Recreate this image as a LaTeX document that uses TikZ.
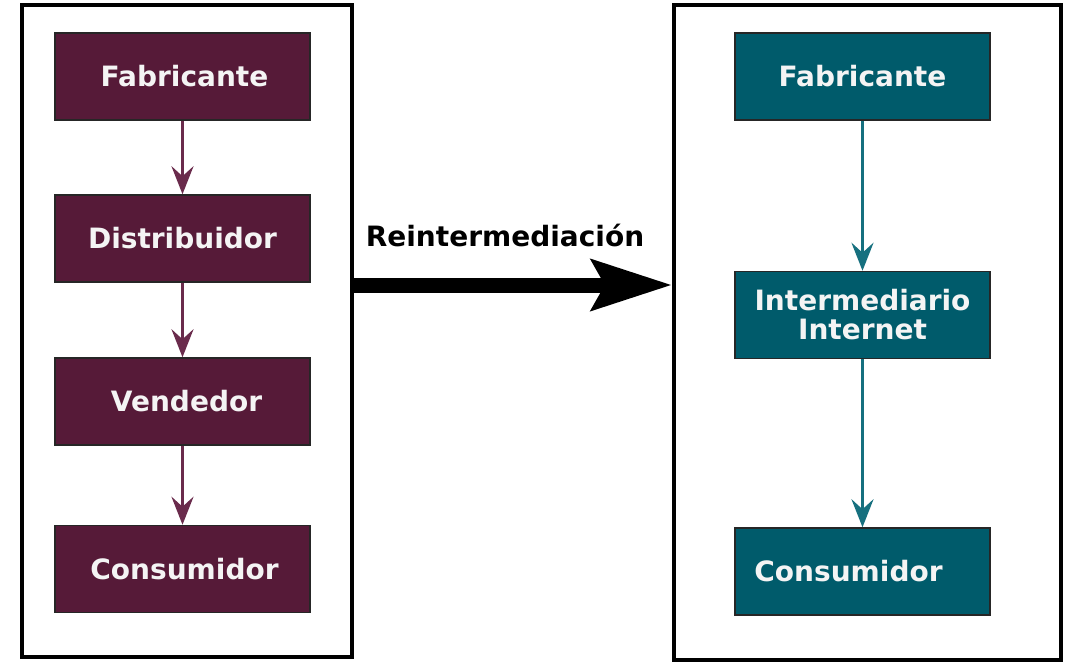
\documentclass[tikz,border=0pt]{standalone}
\usepackage{fontspec}
\setmainfont{DejaVu Sans}
\usetikzlibrary{arrows.meta}
\definecolor{wine}{HTML}{561A38}
\definecolor{wineline}{HTML}{6A2B4C}
\definecolor{petrol}{HTML}{005B6B}
\definecolor{petrolline}{HTML}{16707F}
\definecolor{boxtext}{HTML}{F4F4F4}
\tikzset{
  frame/.style={draw=black, line width=4pt, fill=white, inner sep=0pt},
  box/.style={draw=black!85, line width=1.5pt, minimum width=255pt, minimum height=87pt,
    inner sep=0pt, text=boxtext, font=\fontsize{28}{29}\selectfont\bfseries, align=center},
  lbox/.style={box, fill=wine},
  rbox/.style={box, fill=petrol},
  larrow/.style={draw=wineline, line width=3pt, -{Stealth[length=28pt, width=22pt, inset=10pt]}},
  rarrow/.style={draw=petrolline, line width=3pt, -{Stealth[length=28pt, width=22pt, inset=10pt]}},
  bigarrow/.style={draw=black, line width=15pt, -{Stealth[length=80pt, width=50pt, inset=13pt]}},
  lbl/.style={font=\fontsize{28}{29}\selectfont\bfseries, text=black, inner sep=0pt}
}
\begin{document}
\begin{tikzpicture}[x=1pt, y=-1pt]
\useasboundingbox (0,0) rectangle (1071,663);
\fill[white] (0,0) rectangle (1071,663);
% frames
\node[frame, minimum width=330pt, minimum height=652pt] (L) at (187,331) {};
\node[frame, minimum width=387pt, minimum height=655pt] (R) at (867.5,332.5) {};
% left chain
\node[lbox] (lf) at (182.5,76.5) {Fabricante\hspace*{-4pt}};
\node[lbox] (ld) at (182.5,238.5) {Distribuidor};
\node[lbox] (lv) at (182.5,401.5) {Vendedor\hspace*{-8pt}};
\node[lbox] (lc) at (182.5,569) {Consumidor\hspace*{-4pt}};
\draw[larrow] (lf) -- (ld);
\draw[larrow] (ld) -- (lv);
\draw[larrow] (lv) -- (lc);
% right chain
\node[rbox] (rf) at (862.5,76.5) {Fabricante};
\node[rbox] (ri) at (862.5,315) {Intermediario\\Internet};
\node[rbox] (rc) at (862.5,571.5) {Consumidor\hspace*{28pt}};
\draw[rarrow] (rf) -- (ri);
\draw[rarrow] (ri) -- (rc);
% big arrow
\coordinate (ay) at (0,285);
\draw[bigarrow] (L.east |- ay) -- (R.west |- ay);
\node[lbl] (t) at (505,236) {Reintermediación};
\end{tikzpicture}
\end{document}
